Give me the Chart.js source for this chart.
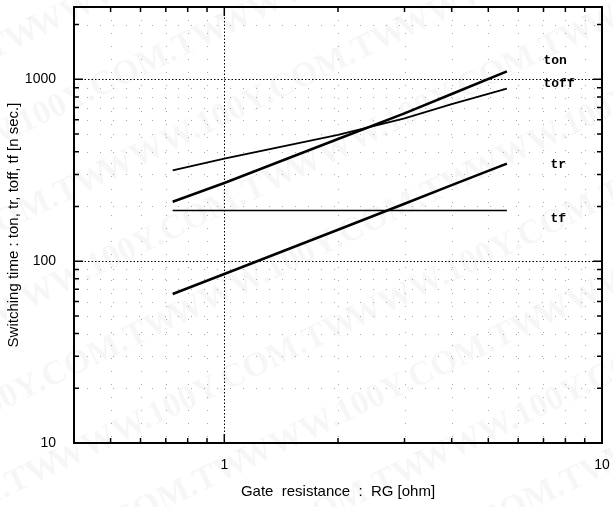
<!DOCTYPE html>
<html>
<head>
<meta charset="utf-8">
<title>Switching time vs. gate resistance</title>
<script src="https://cdn.jsdelivr.net/npm/chart.js@4.4.1/dist/chart.umd.min.js"></script>
<style>
  html, body { margin: 0; padding: 0; background: #fff; }
  #chart { display: block; }
</style>
</head>
<body>
<canvas id="chart" width="613" height="507"></canvas>
<script>
// Gate resistance RG [ohm]
const rgValues = [0.73, 1, 2, 3, 4, 5.6];
// Switching times [n sec.]
const tonValues = [212, 269, 470, 650, 830, 1107];
const toffValues = [316, 367, 495, 610, 730, 889];
const trValues = [66, 85, 149, 207, 262, 344];
const tfValues = [190, 190, 190, 190, 190, 190];

const seriesNames = ['ton', 'toff', 'tr', 'tf'];
// where each curve name is written (RG, time)
const nameX = [7.0, 7.0, 7.3, 7.3];
const nameY = [1270, 950, 341, 172];

const xTickLabels = [1, 10];
const yTickLabels = [10, 100, 1000];

function isDecade(v) {
    const l = Math.log10(v);
    return Math.abs(l - Math.round(l)) < 1e-6;
}

function isWholeMantissa(v) {
    const m = v / Math.pow(10, Math.floor(Math.log10(v) + 1e-9));
    return Math.abs(m - Math.round(m)) < 1e-6;
}

function toPoints(ys) {
    return rgValues.map((x, i) => ({ x: x, y: ys[i] }));
}

// Watermark, grid, inward ticks and the curve names
const framePlugin = {
    id: 'frame',
    beforeDraw(chart) {
        const ctx = chart.ctx;
        ctx.save();
        ctx.fillStyle = 'rgba(0,0,0,0.035)';
        ctx.font = 'bold 34px "Liberation Serif"';
        ctx.textBaseline = 'middle';
        ctx.translate(chart.width / 2, chart.height / 2);
        ctx.rotate(-0.45);
        for (let row = -6; row <= 6; row++) {
            for (let col = -3; col <= 3; col++) {
                ctx.fillText('WWW.100Y.COM.TW', col * 330 + (row % 2) * 160 - 150, row * 80);
            }
        }
        ctx.restore();
    },
    beforeDatasetsDraw(chart) {
        const { ctx, chartArea: a, scales: { x, y } } = chart;
        ctx.save();
        ctx.lineWidth = 1;
        x.ticks.forEach(t => {
            const v = t.value;
            if (v <= x.min || v >= x.max || !isWholeMantissa(v)) return;
            const px = Math.round(x.getPixelForValue(v)) + 0.5;
            if (isDecade(v)) {
                ctx.strokeStyle = '#000';
                ctx.setLineDash([1.5, 2]);
            } else {
                ctx.strokeStyle = '#a8a8a8';
                ctx.setLineDash([1, 12]);
            }
            ctx.beginPath();
            ctx.moveTo(px, a.top);
            ctx.lineTo(px, a.bottom);
            ctx.stroke();
        });
        y.ticks.forEach(t => {
            const v = t.value;
            if (v <= y.min || v >= y.max || !isWholeMantissa(v)) return;
            const py = Math.round(y.getPixelForValue(v)) + 0.5;
            if (isDecade(v)) {
                ctx.strokeStyle = '#000';
                ctx.setLineDash([1.5, 2]);
            } else {
                ctx.strokeStyle = '#a8a8a8';
                ctx.setLineDash([1, 12]);
            }
            ctx.beginPath();
            ctx.moveTo(a.left, py);
            ctx.lineTo(a.right, py);
            ctx.stroke();
        });
        ctx.restore();
    },
    afterDatasetsDraw(chart) {
        const { ctx, chartArea: a, scales: { x, y } } = chart;
        ctx.save();
        ctx.strokeStyle = '#000';
        ctx.setLineDash([]);
        ctx.lineWidth = 2;
        ctx.strokeRect(a.left, a.top, a.right - a.left, a.bottom - a.top);

        ctx.lineWidth = 1.5;
        x.ticks.forEach(t => {
            const v = t.value;
            if (v <= x.min || v >= x.max || !isWholeMantissa(v)) return;
            const px = x.getPixelForValue(v);
            const len = isDecade(v) ? 9 : 5;
            ctx.beginPath();
            ctx.moveTo(px, a.bottom);
            ctx.lineTo(px, a.bottom - len);
            ctx.moveTo(px, a.top);
            ctx.lineTo(px, a.top + len);
            ctx.stroke();
        });
        y.ticks.forEach(t => {
            const v = t.value;
            if (v <= y.min || v >= y.max || !isWholeMantissa(v)) return;
            const py = y.getPixelForValue(v);
            const len = isDecade(v) ? 9 : 5;
            ctx.beginPath();
            ctx.moveTo(a.left, py);
            ctx.lineTo(a.left + len, py);
            ctx.moveTo(a.right, py);
            ctx.lineTo(a.right - len, py);
            ctx.stroke();
        });

        ctx.fillStyle = '#000';
        ctx.font = 'bold 13px "Liberation Mono"';
        ctx.textBaseline = 'middle';
        ctx.textAlign = 'left';
        seriesNames.forEach((name, i) => {
            ctx.fillText(name, x.getPixelForValue(nameX[i]), y.getPixelForValue(nameY[i]));
        });
        ctx.restore();
    }
};

const lineStyle = (data, width) => ({
    data: data,
    borderColor: '#000',
    borderWidth: width,
    pointRadius: 0,
    showLine: true,
    tension: 0,
    fill: false
});

new Chart(document.getElementById('chart'), {
    type: 'scatter',
    data: {
        datasets: [
            Object.assign({ label: 'ton' }, lineStyle(toPoints(tonValues), 2.6)),
            Object.assign({ label: 'toff' }, lineStyle(toPoints(toffValues), 1.8)),
            Object.assign({ label: 'tr' }, lineStyle(toPoints(trValues), 2.6)),
            Object.assign({ label: 'tf' }, lineStyle(toPoints(tfValues), 1.6))
        ]
    },
    options: {
        responsive: false,
        animation: false,
        devicePixelRatio: 1,
        layout: { padding: { top: 7, right: 11, left: 0, bottom: 0 } },
        plugins: {
            legend: { display: false },
            tooltip: { enabled: false }
        },
        scales: {
            x: {
                type: 'logarithmic',
                min: 0.4,
                max: 10,
                grid: { display: false },
                border: { display: false },
                afterFit: scale => {
                    scale.height = 64;
                    scale.paddingLeft = 0;
                    scale.paddingRight = 0;
                },
                ticks: {
                    autoSkip: false,
                    maxRotation: 0,
                    padding: 6,
                    color: '#000',
                    font: { family: 'Liberation Sans', size: 14 },
                    callback: value => xTickLabels.some(v => Math.abs(v - value) < 1e-9) ? String(value) : ''
                },
                title: {
                    display: true,
                    text: 'Gate  resistance  :  RG [ohm]',
                    color: '#000',
                    font: { family: 'Liberation Sans', size: 15 },
                    padding: { top: 0, bottom: 6 }
                }
            },
            y: {
                type: 'logarithmic',
                min: 10,
                max: 2500,
                grid: { display: false },
                border: { display: false },
                afterFit: scale => {
                    scale.width = 74;
                    scale.paddingTop = 0;
                    scale.paddingBottom = 0;
                },
                ticks: {
                    autoSkip: false,
                    padding: 10,
                    color: '#000',
                    font: { family: 'Liberation Sans', size: 14 },
                    callback: value => yTickLabels.some(v => Math.abs(v - value) < 1e-9) ? String(value) : ''
                },
                title: {
                    display: true,
                    text: 'Switching time : ton, tr, toff, tf [n sec.]',
                    color: '#000',
                    font: { family: 'Liberation Sans', size: 15 },
                    padding: { top: 5, bottom: 0 }
                }
            }
        }
    },
    plugins: [framePlugin]
});
</script>
</body>
</html>
